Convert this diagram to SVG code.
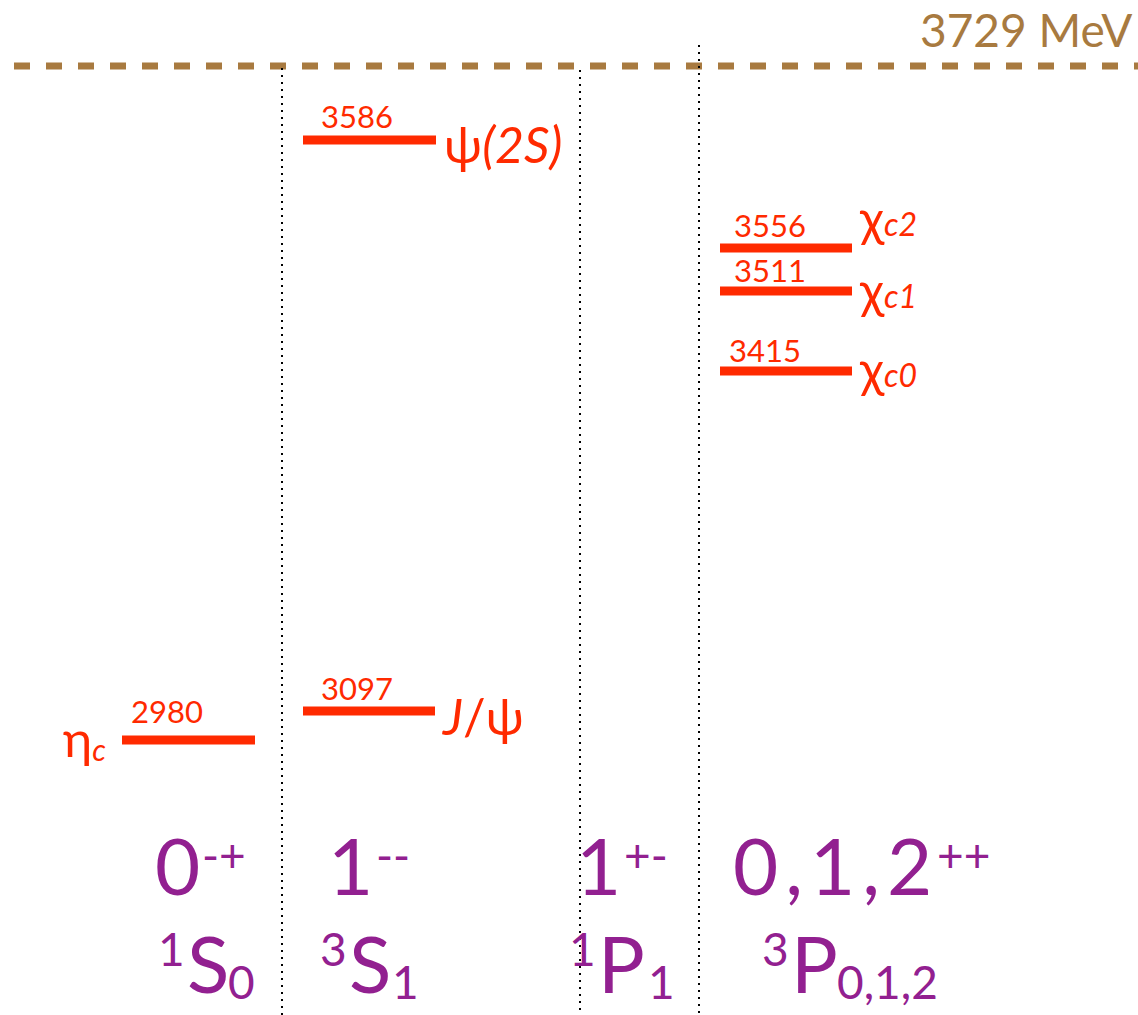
<svg xmlns="http://www.w3.org/2000/svg" width="1138" height="1015" viewBox="0 0 1138 1015">
<style>
.lvl{stroke:#FF2A00;stroke-width:9}
.num{font-family:Lato,"Open Sans",sans-serif;font-size:31px;fill:#FF2A00}
.nm{font-family:Lato,"Open Sans",sans-serif;font-size:50px;fill:#FF2A00}
.it{font-style:italic}
.q{font-family:Lato,"Open Sans",sans-serif;font-size:78px;fill:#922090}
.sup{font-size:46px}
.dot{stroke:#000;stroke-width:2;stroke-dasharray:2 5;fill:none}
</style>
<rect width="1138" height="1015" fill="#fff"/>
<g id="threshold">
<line x1="14" y1="66" x2="1138" y2="66" stroke="#A87A40" stroke-width="7" stroke-dasharray="16 16"/>
<text x="920" y="47" font-family="Lato,'Open Sans',sans-serif" font-size="46" fill="#A87A40">3729 MeV</text>
</g>
<g id="connectors">
<line class="dot" x1="282" y1="68" x2="282" y2="1015"/>
<line class="dot" x1="580" y1="70" x2="580" y2="1015"/>
<line class="dot" x1="699" y1="45" x2="699" y2="1015"/>
</g>
<g id="etac">
<line class="lvl" x1="122" y1="740" x2="255" y2="740"/>
<text class="num" x="131" y="723">2980</text>
<text class="nm" x="63" y="757" font-size="48">η<tspan class="it" font-size="30" dy="4">c</tspan></text>
</g>
<g id="jpsi">
<line class="lvl" x1="303" y1="711" x2="435" y2="711"/>
<text class="num" x="321" y="700">3097</text>
<text class="nm" x="443" y="735"><tspan class="it">J</tspan>/ψ</text>
</g>
<g id="psi2s">
<line class="lvl" x1="303" y1="140" x2="436" y2="140"/>
<text class="num" x="321" y="128">3586</text>
<text class="nm" x="444" y="163" font-size="52">ψ<tspan class="it">(2S)</tspan></text>
</g>
<g id="chic2">
<line class="lvl" x1="720" y1="248" x2="852" y2="248"/>
<text class="num" x="734" y="237">3556</text>
<text class="nm" x="860" y="236" font-size="54">χ<tspan class="it" font-size="32">c2</tspan></text>
</g>
<g id="chic1">
<line class="lvl" x1="720" y1="291" x2="852" y2="291"/>
<text class="num" x="734" y="282">3511</text>
<text class="nm" x="860" y="308" font-size="54">χ<tspan class="it" font-size="32">c1</tspan></text>
</g>
<g id="chic0">
<line class="lvl" x1="720" y1="371" x2="852" y2="371"/>
<text class="num" x="729" y="362">3415</text>
<text class="nm" x="860" y="387" font-size="54">χ<tspan class="it" font-size="32">c0</tspan></text>
</g>
<g id="col1">
<text class="q" x="155" y="895">0<tspan class="sup" x="202" y="872">-+</tspan></text>
<text class="q"><tspan class="sup" x="158" y="966">1</tspan><tspan x="187" y="993">S</tspan><tspan class="sup" x="228" y="999">0</tspan></text>
</g>
<g id="col2">
<text class="q" x="328" y="895">1<tspan class="sup" x="376" y="872">--</tspan></text>
<text class="q"><tspan class="sup" x="320" y="966">3</tspan><tspan x="349" y="993">S</tspan><tspan class="sup" x="392" y="999">1</tspan></text>
</g>
<g id="col3">
<text class="q" x="576" y="895">1<tspan class="sup" x="624" y="872">+-</tspan></text>
<text class="q"><tspan class="sup" x="569" y="966">1</tspan><tspan x="598" y="993">P</tspan><tspan class="sup" x="648" y="999">1</tspan></text>
</g>
<g id="col4">
<text class="q" x="733" y="895" letter-spacing="7">0,1,2<tspan class="sup" x="937" y="872" letter-spacing="0">++</tspan></text>
<text class="q"><tspan class="sup" x="762" y="966">3</tspan><tspan x="791" y="993">P</tspan><tspan class="sup" x="837" y="999">0,1,2</tspan></text>
</g>
</svg>
